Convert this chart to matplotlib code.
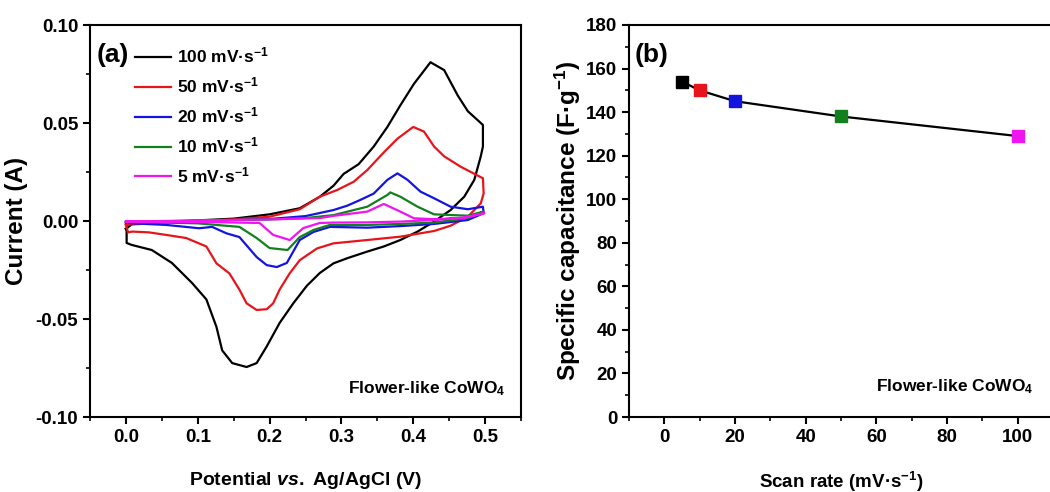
import matplotlib
matplotlib.use("Agg")
import matplotlib.pyplot as plt
from matplotlib.ticker import MultipleLocator

FONT = "Liberation Sans"
plt.rcParams["font.family"] = [FONT, "DejaVu Sans"]
plt.rcParams["font.weight"] = "bold"
plt.rcParams["axes.labelweight"] = "bold"
plt.rcParams["mathtext.fontset"] = "custom"
plt.rcParams["mathtext.rm"] = FONT + ":bold"
plt.rcParams["mathtext.it"] = FONT + ":bold:italic"
plt.rcParams["mathtext.bf"] = FONT + ":bold"
plt.rcParams["mathtext.default"] = "rm"

# ---- CV loops (potential V, current A) ----
v_100 = [0.000, 0.010, 0.05, 0.10, 0.15, 0.20, 0.242, 0.270, 0.289, 0.303, 0.324, 0.345,
         0.364, 0.382, 0.401, 0.424, 0.443, 0.462, 0.476, 0.497, 0.497, 0.494, 0.485,
         0.471, 0.452, 0.429, 0.406, 0.382, 0.359, 0.336, 0.308, 0.289, 0.270, 0.252,
         0.233, 0.214, 0.196, 0.182, 0.168, 0.148, 0.134, 0.126, 0.112, 0.092, 0.064,
         0.036, 0.008, 0.001, 0.001, 0.000]
i_100 = [-0.0040, -0.0012, -0.0005, 0.0003, 0.0012, 0.0034, 0.0065, 0.0124, 0.0180, 0.0240,
         0.0290, 0.0380, 0.0480, 0.0590, 0.0700, 0.0810, 0.0770, 0.0640, 0.0560, 0.0490,
         0.0380, 0.0330, 0.0210, 0.0124, 0.0056, -0.0003, -0.0054, -0.0097, -0.0130,
         -0.0156, -0.0190, -0.0216, -0.0265, -0.0330, -0.0420, -0.0520, -0.0640, -0.0725,
         -0.0745, -0.0725, -0.0660, -0.0540, -0.0400, -0.0316, -0.0214, -0.0148, -0.0122,
         -0.0112, -0.0050, -0.0040]

v_50 = [0.000, 0.05, 0.10, 0.15, 0.20, 0.242, 0.270, 0.294, 0.317, 0.336, 0.359, 0.378,
        0.400, 0.415, 0.429, 0.443, 0.466, 0.497, 0.498, 0.494, 0.485, 0.476, 0.452, 0.429,
        0.382, 0.336, 0.289, 0.266, 0.242, 0.228, 0.214, 0.205, 0.196, 0.182, 0.168, 0.158,
        0.144, 0.126, 0.112, 0.084, 0.056, 0.032, 0.009, 0.003, 0.000]
i_50 = [-0.0020, -0.0008, 0.0000, 0.0008, 0.0022, 0.0060, 0.0124, 0.0158, 0.0200, 0.0260,
        0.0350, 0.0420, 0.0480, 0.0456, 0.0380, 0.0330, 0.0277, 0.0218, 0.0140, 0.0090,
        0.0056, 0.0022, -0.0024, -0.0051, -0.0080, -0.0097, -0.0114, -0.0140, -0.0200,
        -0.0267, -0.0350, -0.0420, -0.0450, -0.0454, -0.0420, -0.0350, -0.0267, -0.0216,
        -0.0130, -0.0087, -0.0071, -0.0058, -0.0054, -0.0058, -0.0020]

v_20 = [0.000, 0.10, 0.20, 0.25, 0.289, 0.308, 0.326, 0.345, 0.364, 0.378, 0.392, 0.410,
        0.429, 0.452, 0.476, 0.497, 0.498, 0.476, 0.429, 0.382, 0.336, 0.284, 0.261, 0.242,
        0.224, 0.210, 0.196, 0.182, 0.158, 0.140, 0.120, 0.102, 0.056, 0.009, 0.000]
i_20 = [-0.0008, 0.0000, 0.0010, 0.0025, 0.0056, 0.0078, 0.0107, 0.0140, 0.0210, 0.0243,
        0.0210, 0.0150, 0.0116, 0.0073, 0.0060, 0.0073, 0.0040, 0.0005, -0.0015, -0.0026,
        -0.0034, -0.0030, -0.0056, -0.0097, -0.0214, -0.0235, -0.0225, -0.0184, -0.0082,
        -0.0063, -0.0030, -0.0037, -0.0020, -0.0012, -0.0008]

v_10 = [0.000, 0.10, 0.20, 0.25, 0.289, 0.336, 0.364, 0.368, 0.382, 0.406, 0.429, 0.476,
        0.498, 0.476, 0.429, 0.382, 0.336, 0.284, 0.261, 0.242, 0.225, 0.200, 0.182, 0.158,
        0.10, 0.05, 0.000]
i_10 = [-0.0005, 0.0002, 0.0008, 0.0015, 0.0030, 0.0073, 0.0133, 0.0146, 0.0124, 0.0073,
        0.0034, 0.0027, 0.0048, 0.0015, -0.0008, -0.0015, -0.0020, -0.0020, -0.0046,
        -0.0082, -0.0148, -0.0138, -0.0087, -0.0030, -0.0012, -0.0008, -0.0005]

v_5 = [0.000, 0.10, 0.20, 0.27, 0.289, 0.336, 0.359, 0.382, 0.401, 0.429, 0.470, 0.499,
       0.470, 0.429, 0.382, 0.336, 0.290, 0.270, 0.247, 0.228, 0.205, 0.186, 0.10, 0.000]
i_5 = [-0.0003, 0.0003, 0.0008, 0.0015, 0.0026, 0.0048, 0.0087, 0.0048, 0.0014, 0.0009,
       0.0015, 0.0040, 0.0018, 0.0005, -0.0003, -0.0007, -0.0008, -0.0010, -0.0036,
       -0.0097, -0.0071, -0.0010, -0.0005, -0.0003]

cv_labels = ["100 mV·s$^{-1}$", "50 mV·s$^{-1}$", "20 mV·s$^{-1}$",
             "10 mV·s$^{-1}$", "5 mV·s$^{-1}$"]
cv_colors = ["black", "#e8141b", "#1414e0", "#13801e", "#f014f0"]

# ---- specific capacitance vs scan rate ----
scan_rate = [5, 10, 20, 50, 100]
capacitance = [154, 150, 145, 138, 129]

W, H = 1050, 492
fig = plt.figure(figsize=(W / 100, H / 100), dpi=100)
ax1 = fig.add_axes([90 / W, 75 / H, 431 / W, 392 / H])
ax2 = fig.add_axes([629 / W, 75 / H, 424 / W, 392 / H])

for v, i, lab, col in zip([v_100, v_50, v_20, v_10, v_5],
                          [i_100, i_50, i_20, i_10, i_5], cv_labels, cv_colors):
    ax1.plot(v, i, color=col, lw=1.6, label=lab)

ax1.set_xlim(-0.05, 0.55)
ax1.set_ylim(-0.1, 0.1)
ax1.xaxis.set_minor_locator(MultipleLocator(0.05))
ax1.yaxis.set_major_locator(MultipleLocator(0.05))
ax1.yaxis.set_minor_locator(MultipleLocator(0.025))
ax1.set_xticks([0.0, 0.1, 0.2, 0.3, 0.4, 0.5])
ax1.xaxis.set_major_formatter(lambda x, p: "%.1f" % x)
ax1.yaxis.set_major_formatter(lambda y, p: "%.2f" % y)
ax1.set_xlabel(r"Potential $\mathit{vs.}$ Ag/AgCl (V)", fontsize=14)
ax1.set_ylabel("Current (A)", fontsize=17.5)
ax1.xaxis.set_label_coords(0.5, -0.135)
ax1.yaxis.set_label_coords(-0.144, 0.5)
ax1.text(0.016, 0.955, "(a)", transform=ax1.transAxes, fontsize=19, va="top", ha="left")
ax1.text(0.965, 0.06, "Flower-like CoWO$_4$", transform=ax1.transAxes, fontsize=12.5,
         ha="right", va="baseline")
ax1.legend(loc="upper left", bbox_to_anchor=(0.104, 0.947), frameon=False, fontsize=12.5,
           handlelength=2.1, handletextpad=0.35, labelspacing=0.58, borderpad=0,
           borderaxespad=0)

ax2.plot(scan_rate, capacitance, color="black", lw=1.6, zorder=2)
for x, y, col in zip(scan_rate, capacitance, cv_colors):
    ax2.plot(x, y, marker="s", color=col, ms=9, mec=col, zorder=3)
ax2.set_xlim(-10, 110)
ax2.set_ylim(0, 180)
ax2.xaxis.set_minor_locator(MultipleLocator(10))
ax2.yaxis.set_major_locator(MultipleLocator(20))
ax2.yaxis.set_minor_locator(MultipleLocator(10))
ax2.set_xticks([0, 20, 40, 60, 80, 100])
ax2.set_xlabel("Scan rate (mV·s$^{-1}$)", fontsize=13.5)
ax2.set_ylabel("Specific capacitance (F·g$^{-1}$)", fontsize=17.5)
ax2.xaxis.set_label_coords(0.5, -0.135)
ax2.yaxis.set_label_coords(-0.108, 0.5)
ax2.text(0.014, 0.955, "(b)", transform=ax2.transAxes, fontsize=19, va="top", ha="left")
ax2.text(0.955, 0.065, "Flower-like CoWO$_4$", transform=ax2.transAxes, fontsize=12.5,
         ha="right", va="baseline")

for ax in (ax1, ax2):
    for s in ax.spines.values():
        s.set_linewidth(1.5)
    ax.tick_params(which="major", direction="out", length=5, width=1.5, labelsize=13.5,
                   top=False, right=False)
    ax.tick_params(which="minor", direction="out", length=3, width=1.2, top=False, right=False)

fig.savefig("out.png", dpi=100)
